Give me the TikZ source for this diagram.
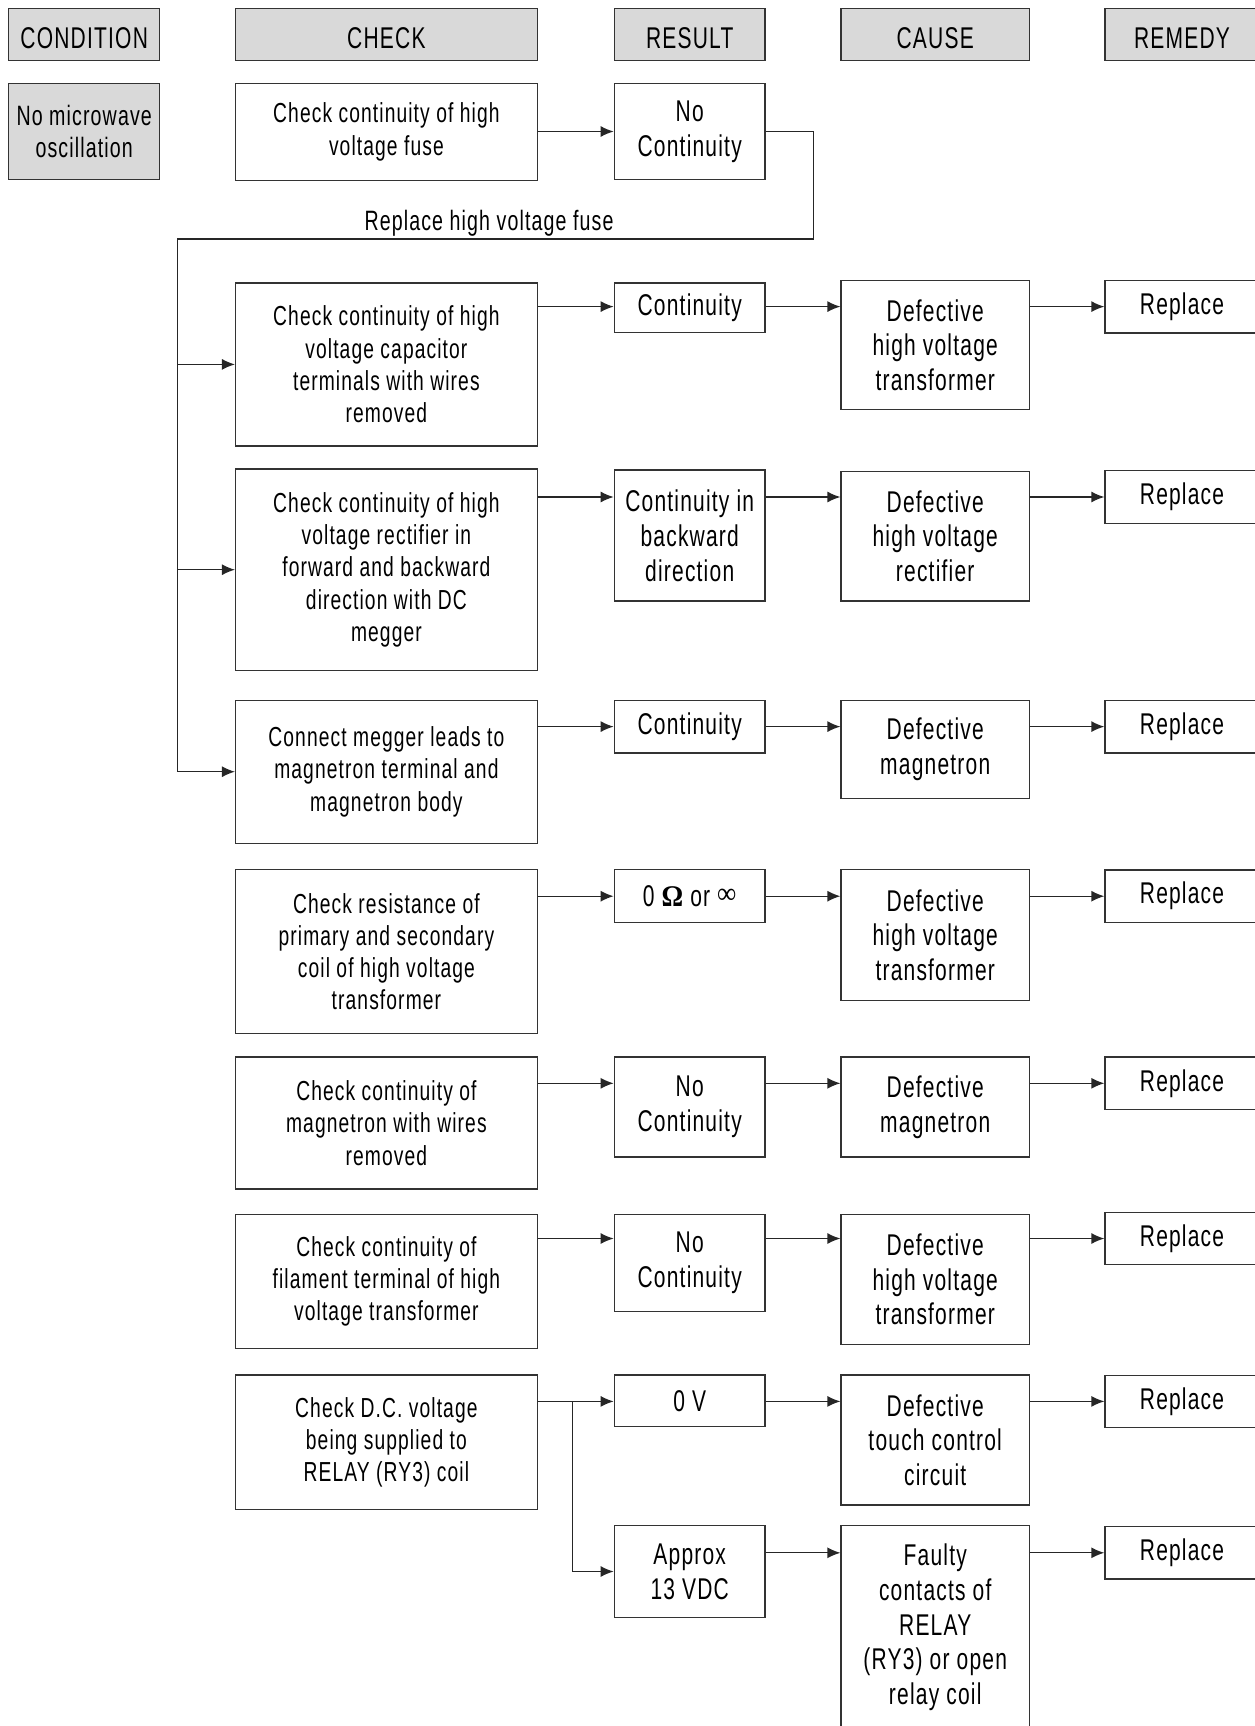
\documentclass[tikz,border=0pt]{standalone}
\usepackage{fontspec}
\setmainfont[FakeStretch=0.7,LetterSpace=4]{Liberation Sans}
\newfontfamily\symfont[FakeStretch=0.9]{Liberation Serif}
\usetikzlibrary{arrows.meta}
\definecolor{hdrgray}{HTML}{D9D9D9}
\begin{document}
\begin{tikzpicture}
    [
    x=1pt,y=-1pt,
    box/.style={draw=black!80,line width=1.3pt,align=center,inner sep=0pt,font=\fontsize{30}{34.7}\selectfont},
    head/.style={box,fill=hdrgray,minimum height=52pt,text height=27pt,text depth=0pt},
    chk/.style={box,minimum width=301.6pt,font=\fontsize{27.5}{32.3}\selectfont},
    res/.style={box,minimum width=150.8pt},
    cause/.style={box,minimum width=188.3pt},
    rem/.style={box,minimum width=154pt,minimum height=52.5pt},
    arr/.style={-{Latex[length=13pt,width=11pt]},line width=1.3pt,draw=black!85},
    ]
    \useasboundingbox (0,0) rectangle (1255,1726);
    \clip (0,0) rectangle (1255,1726);
    % column heads
    \node (hcond) at (84.2,34.7) [head,minimum width=150.8pt] {CONDITION};
    \node (hchk) at (386.4,34.7) [head,minimum width=301.6pt] {CHECK};
    \node (hres) at (689.7,34.7) [head,minimum width=150.8pt] {RESULT};
    \node (hcause) at (935.2,34.7) [head,minimum width=188.3pt] {CAUSE};
    \node (hrem) at (1182,34.7) [head,minimum width=154pt] {REMEDY};
    % fuse
    \node (cond) at (84.2,131.5) [box,fill=hdrgray,minimum width=150.8pt,minimum height=95.8pt,font=\fontsize{28}{32}\selectfont] {No microwave\\oscillation};
    \node (chk0) at (386.4,132) [chk,minimum height=97pt] {Check continuity of high\\voltage fuse};
    \node (res0) at (689.7,131.5) [res,minimum height=96pt] {No\\Continuity};
    % capacitor
    \node (chk1) at (386.4,364.4) [chk,minimum height=163pt] {Check continuity of high\\voltage capacitor\\terminals with wires\\removed};
    \node (res1) at (689.7,307.7) [res,minimum height=49.6pt] {Continuity};
    \node (cause1) at (935.2,345.1) [cause,minimum height=128.8pt] {Defective\\high voltage\\transformer};
    \node (rem1) at (1182,306.6) [rem] {Replace};
    % rectifier
    \node (chk2) at (386.4,569.7) [chk,minimum height=201.5pt] {Check continuity of high\\voltage rectifier in\\forward and backward\\direction with DC\\megger};
    \node (res2) at (689.7,535.6) [res,minimum height=131pt] {Continuity in\\backward\\direction};
    \node (cause2) at (935.2,536.1) [cause,minimum height=129.9pt] {Defective\\high voltage\\rectifier};
    \node (rem2) at (1182,497) [rem] {Replace};
    % magnetron body
    \node (chk3) at (386.4,771.7) [chk,minimum height=143.1pt] {Connect megger leads to\\magnetron terminal and\\magnetron body};
    \node (res3) at (689.7,726.6) [res,minimum height=52.8pt] {Continuity};
    \node (cause3) at (935.2,749.2) [cause,minimum height=98pt] {Defective\\magnetron};
    \node (rem3) at (1182,726.6) [rem] {Replace};
    % transformer coils
    \node (chk4) at (386.4,951.7) [chk,minimum height=164pt] {Check resistance of\\primary and secondary\\coil of high voltage\\transformer};
    \node (res4) at (689.7,896.2) [res,minimum height=52.9pt] {0 {\symfont\bfseries Ω} or {\symfont\raisebox{3pt}{∞}}};
    \node (cause4) at (935.2,935.2) [cause,minimum height=131pt] {Defective\\high voltage\\transformer};
    \node (rem4) at (1182,896.2) [rem] {Replace};
    % magnetron wires
    \node (chk5) at (386.4,1122.9) [chk,minimum height=132.1pt] {Check continuity of\\magnetron with wires\\removed};
    \node (res5) at (689.7,1107) [res,minimum height=100.2pt] {No\\Continuity};
    \node (cause5) at (935.2,1107) [cause,minimum height=100.2pt] {Defective\\magnetron};
    \node (rem5) at (1182,1083.3) [rem] {Replace};
    % filament
    \node (chk6) at (386.4,1281.5) [chk,minimum height=134.3pt] {Check continuity of\\filament terminal of high\\voltage transformer};
    \node (res6) at (689.7,1262.7) [res,minimum height=96.9pt] {No\\Continuity};
    \node (cause6) at (935.2,1279.3) [cause,minimum height=129.9pt] {Defective\\high voltage\\transformer};
    \node (rem6) at (1182,1238.5) [rem] {Replace};
    % relay
    \node (chk7) at (386.4,1442.2) [chk,minimum height=134.3pt] {Check D.C. voltage\\being supplied to\\RELAY (RY3) coil};
    \node (res7) at (689.7,1400.9) [res,minimum height=51.8pt] {0 V};
    \node (cause7) at (935.2,1440) [cause,minimum height=130pt] {Defective\\touch control\\circuit};
    \node (rem7) at (1182,1401.4) [rem] {Replace};
    \node (res8) at (689.7,1571.5) [res,minimum height=91.4pt] {Approx\\13 VDC};
    \node (cause8) at (935.2,1627.3) [cause,minimum height=203pt] {Faulty\\contacts of\\RELAY\\(RY3) or open\\relay coil};
    \node (rem8) at (1182,1552.8) [rem] {Replace};
    % connectors
    \coordinate (turn) at (813.6,238.9);
    \coordinate (spine) at (177.2,238.9);
    \coordinate (split) at (572.5,0);
    \draw [arr] (chk0.east |- res0) to (res0.west);
    \draw [arr] (res0.east) -| (turn) -- node[pos=0.51,above,inner sep=2pt,font=\fontsize{28}{32}\selectfont] (fuselbl) {Replace high voltage fuse} (spine) |- (chk3.west);
    \draw [arr] (spine |- chk1) to (chk1.west);
    \draw [arr] (spine |- chk2) to (chk2.west);
    \draw [arr] (chk1.east |- rem1) to (res1.west |- rem1);
    \draw [arr] (res1.east |- rem1) to (cause1.west |- rem1);
    \draw [arr] (cause1.east |- rem1) to (rem1.west);
    \draw [arr] (chk2.east |- rem2) to (res2.west |- rem2);
    \draw [arr] (res2.east |- rem2) to (cause2.west |- rem2);
    \draw [arr] (cause2.east |- rem2) to (rem2.west);
    \draw [arr] (chk3.east |- rem3) to (res3.west |- rem3);
    \draw [arr] (res3.east |- rem3) to (cause3.west |- rem3);
    \draw [arr] (cause3.east |- rem3) to (rem3.west);
    \draw [arr] (chk4.east |- rem4) to (res4.west |- rem4);
    \draw [arr] (res4.east |- rem4) to (cause4.west |- rem4);
    \draw [arr] (cause4.east |- rem4) to (rem4.west);
    \draw [arr] (chk5.east |- rem5) to (res5.west |- rem5);
    \draw [arr] (res5.east |- rem5) to (cause5.west |- rem5);
    \draw [arr] (cause5.east |- rem5) to (rem5.west);
    \draw [arr] (chk6.east |- rem6) to (res6.west |- rem6);
    \draw [arr] (res6.east |- rem6) to (cause6.west |- rem6);
    \draw [arr] (cause6.east |- rem6) to (rem6.west);
    \draw [arr] (chk7.east |- rem7) to (res7.west |- rem7);
    \draw [arr] (res7.east |- rem7) to (cause7.west |- rem7);
    \draw [arr] (cause7.east |- rem7) to (rem7.west);
    \draw [arr] (split |- rem7) |- (res8.west);
    \draw [arr] (res8.east |- rem8) to (cause8.west |- rem8);
    \draw [arr] (cause8.east |- rem8) to (rem8.west);
  \end{tikzpicture}
\end{document}
